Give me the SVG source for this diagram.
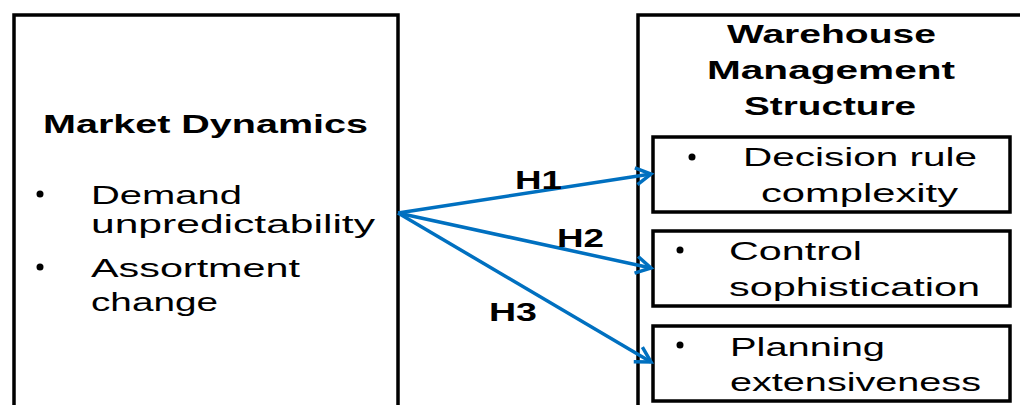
<svg xmlns="http://www.w3.org/2000/svg" width="1020" height="405" viewBox="0 0 1020 405">
<style>
.box{fill:#fff;stroke:#000;stroke-width:3.5}
.t{font-family:"Liberation Sans",Arial,sans-serif;font-size:25px;fill:#000}
.b{font-weight:bold}
.conn{stroke:#0070C0;stroke-width:3.5;fill:none}
</style>
<defs>
<marker id="ah" markerUnits="userSpaceOnUse" markerWidth="30" markerHeight="30" refX="20" refY="15" orient="auto" viewBox="0 0 30 30">
<path d="M5,6.5 L20,15 L5,23.5" fill="none" stroke="#0070C0" stroke-width="3.5"/>
</marker>
</defs>
<rect width="1020" height="405" fill="#fff"/>
<g id="market-dynamics">
<rect class="box" x="14" y="15" width="384" height="400"/>
<text class="t b" x="43" y="133" font-size="27" textLength="325" lengthAdjust="spacingAndGlyphs">Market Dynamics</text>
<circle cx="40" cy="194" r="3.5"/>
<text class="t" x="91" y="204" textLength="151" lengthAdjust="spacingAndGlyphs">Demand</text>
<text class="t" x="91" y="233" textLength="284" lengthAdjust="spacingAndGlyphs">unpredictability</text>
<circle cx="40" cy="267" r="3.5"/>
<text class="t" x="91" y="277" textLength="209" lengthAdjust="spacingAndGlyphs">Assortment</text>
<text class="t" x="91" y="311" textLength="127" lengthAdjust="spacingAndGlyphs">change</text>
</g>
<g id="warehouse-management">
<rect class="box" x="638" y="15" width="400" height="400"/>
<text class="t b" x="727" y="43" font-size="25" textLength="209" lengthAdjust="spacingAndGlyphs">Warehouse</text>
<text class="t b" x="707" y="79" font-size="25" textLength="248" lengthAdjust="spacingAndGlyphs">Management</text>
<text class="t b" x="744" y="115" font-size="25" textLength="172" lengthAdjust="spacingAndGlyphs">Structure</text>
</g>
<g id="decision-rule">
<rect class="box" x="653" y="137" width="357" height="75"/>
<circle cx="692" cy="157" r="3.5"/>
<text class="t" x="743" y="166" textLength="234" lengthAdjust="spacingAndGlyphs">Decision rule</text>
<text class="t" x="761" y="202" textLength="197" lengthAdjust="spacingAndGlyphs">complexity</text>
</g>
<g id="control">
<rect class="box" x="653" y="231" width="357" height="75"/>
<circle cx="680" cy="250" r="3.5"/>
<text class="t" x="729" y="260" textLength="133" lengthAdjust="spacingAndGlyphs">Control</text>
<text class="t" x="729" y="296" textLength="251" lengthAdjust="spacingAndGlyphs">sophistication</text>
</g>
<g id="planning">
<rect class="box" x="653" y="326" width="357" height="75"/>
<circle cx="680" cy="345" r="3.5"/>
<text class="t" x="730" y="356" textLength="155" lengthAdjust="spacingAndGlyphs">Planning</text>
<text class="t" x="730" y="391" textLength="251" lengthAdjust="spacingAndGlyphs">extensiveness</text>
</g>
<g id="connectors">
<line class="conn" x1="398" y1="213" x2="651" y2="174" marker-end="url(#ah)"/>
<line class="conn" x1="398" y1="213" x2="651" y2="268" marker-end="url(#ah)"/>
<line class="conn" x1="398" y1="213" x2="651" y2="362" marker-end="url(#ah)"/>
<text class="t b" x="515" y="189" textLength="47" lengthAdjust="spacingAndGlyphs">H1</text>
<text class="t b" x="557" y="247" textLength="47" lengthAdjust="spacingAndGlyphs">H2</text>
<text class="t b" x="489" y="321" textLength="48" lengthAdjust="spacingAndGlyphs">H3</text>
</g>
</svg>
